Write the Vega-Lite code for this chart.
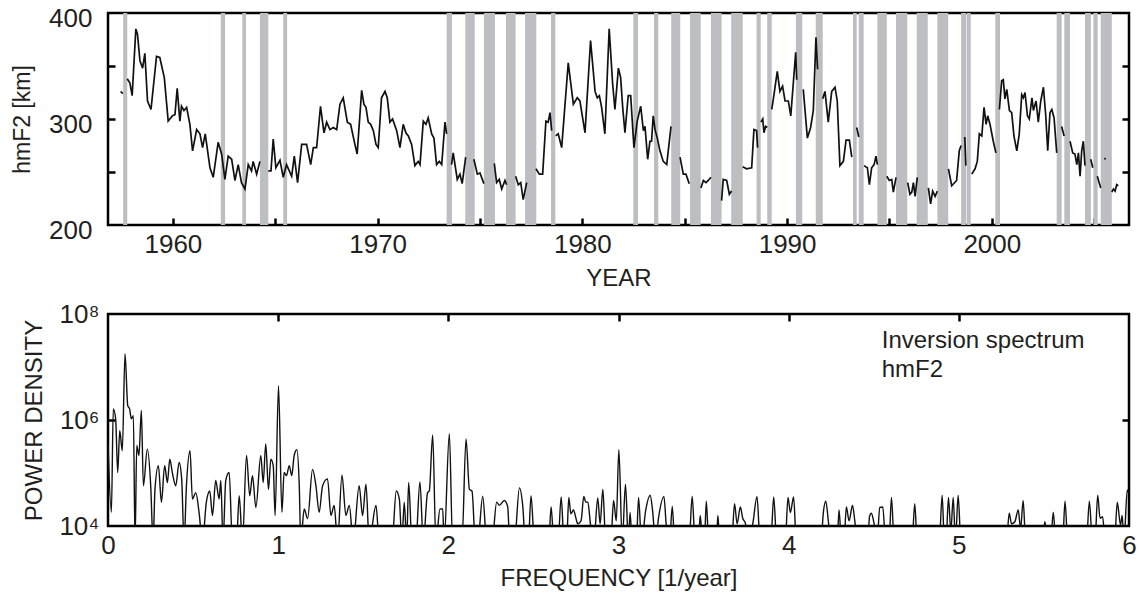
{
"$schema": "https://vega.github.io/schema/vega-lite/v6.json",
"padding": {"left": 10, "top": 3, "right": 12, "bottom": 4},
"background": "white",
"config": {
  "view": {"stroke": "black", "strokeWidth": 2.5},
  "font": "Liberation Sans",
  "axis": {"domain": false, "grid": false, "labelFont": "Liberation Sans", "titleFont": "Liberation Sans", "labelColor": "#231f20", "titleColor": "#231f20", "labelFontSize": 26, "titleFontSize": 24, "titleFontWeight": "normal", "tickColor": "black", "tickWidth": 2.5, "tickSize": 7, "labelFlush": false, "labelOverlap": false, "labelBound": false}
},
"bounds": "flush",
"spacing": 89,
"datasets": {
  "bars": [
    {"start":1957.57,"end":1957.77},{"start":1962.34,"end":1962.55},{"start":1963.39,"end":1963.57},{"start":1964.25,"end":1964.66},{"start":1965.39,"end":1965.58},
    {"start":1973.37,"end":1973.63},{"start":1974.28,"end":1974.74},{"start":1975.19,"end":1975.73},{"start":1976.27,"end":1976.74},{"start":1977.20,"end":1977.75},{"start":1978.47,"end":1978.68},
    {"start":1982.49,"end":1982.72},{"start":1983.50,"end":1983.71},{"start":1984.34,"end":1984.78},{"start":1985.26,"end":1985.78},{"start":1986.28,"end":1986.80},{"start":1987.27,"end":1987.83},
    {"start":1988.51,"end":1988.71},{"start":1989.03,"end":1989.25},{"start":1990.43,"end":1990.74},{"start":1991.40,"end":1991.74},{"start":1993.22,"end":1993.40},{"start":1993.50,"end":1993.74},
    {"start":1994.41,"end":1994.87},{"start":1995.32,"end":1995.87},{"start":1996.33,"end":1996.87},{"start":1997.34,"end":1997.87},{"start":1998.50,"end":1998.74},{"start":1998.77,"end":1998.97},
    {"start":2000.17,"end":2000.40},{"start":2003.17,"end":2003.41},{"start":2003.54,"end":2003.82},{"start":2004.55,"end":2004.84},{"start":2004.96,"end":2005.17},{"start":2005.32,"end":2005.86}
  ],
  "hm": [
    {"year":1957.45,"hmF2":326,"seg":0},{"year":1957.55,"hmF2":324,"seg":0},
    {"year":1957.77,"hmF2":338,"seg":1},{"year":1957.90,"hmF2":334,"seg":1},{"year":1958.01,"hmF2":322,"seg":1},{"year":1958.19,"hmF2":385,"seg":1},{"year":1958.27,"hmF2":380,"seg":1},{"year":1958.39,"hmF2":355,"seg":1},{"year":1958.52,"hmF2":348,"seg":1},{"year":1958.63,"hmF2":362,"seg":1},{"year":1958.76,"hmF2":317,"seg":1},{"year":1958.93,"hmF2":309,"seg":1},{"year":1959.20,"hmF2":359,"seg":1},{"year":1959.36,"hmF2":358,"seg":1},{"year":1959.58,"hmF2":339,"seg":1},{"year":1959.77,"hmF2":298,"seg":1},{"year":1959.98,"hmF2":303,"seg":1},{"year":1960.10,"hmF2":304,"seg":1},{"year":1960.21,"hmF2":329,"seg":1},{"year":1960.34,"hmF2":298,"seg":1},{"year":1960.42,"hmF2":312,"seg":1},{"year":1960.54,"hmF2":308,"seg":1},{"year":1960.67,"hmF2":311,"seg":1},{"year":1960.83,"hmF2":295,"seg":1},{"year":1960.96,"hmF2":270,"seg":1},{"year":1961.16,"hmF2":290,"seg":1},{"year":1961.32,"hmF2":286,"seg":1},{"year":1961.45,"hmF2":273,"seg":1},{"year":1961.58,"hmF2":286,"seg":1},{"year":1961.81,"hmF2":254,"seg":1},{"year":1961.97,"hmF2":245,"seg":1},{"year":1962.21,"hmF2":278,"seg":1},{"year":1962.38,"hmF2":267,"seg":1},{"year":1962.54,"hmF2":243,"seg":1},{"year":1962.70,"hmF2":265,"seg":1},{"year":1962.87,"hmF2":262,"seg":1},{"year":1963.03,"hmF2":242,"seg":1},{"year":1963.19,"hmF2":257,"seg":1},{"year":1963.35,"hmF2":240,"seg":1},{"year":1963.52,"hmF2":234,"seg":1},{"year":1963.68,"hmF2":257,"seg":1},{"year":1963.84,"hmF2":251,"seg":1},{"year":1963.92,"hmF2":260,"seg":1},{"year":1964.09,"hmF2":248,"seg":1},{"year":1964.25,"hmF2":260,"seg":1},
    {"year":1964.66,"hmF2":251,"seg":2},{"year":1964.79,"hmF2":251,"seg":2},{"year":1964.90,"hmF2":281,"seg":2},{"year":1965.03,"hmF2":254,"seg":2},{"year":1965.23,"hmF2":261,"seg":2},{"year":1965.39,"hmF2":245,"seg":2},{"year":1965.55,"hmF2":257,"seg":2},{"year":1965.80,"hmF2":246,"seg":2},{"year":1965.93,"hmF2":265,"seg":2},{"year":1966.09,"hmF2":240,"seg":2},{"year":1966.29,"hmF2":276,"seg":2},{"year":1966.53,"hmF2":276,"seg":2},{"year":1966.73,"hmF2":257,"seg":2},{"year":1966.86,"hmF2":273,"seg":2},{"year":1967.02,"hmF2":273,"seg":2},{"year":1967.21,"hmF2":312,"seg":2},{"year":1967.38,"hmF2":287,"seg":2},{"year":1967.51,"hmF2":297,"seg":2},{"year":1967.67,"hmF2":290,"seg":2},{"year":1967.83,"hmF2":292,"seg":2},{"year":1968.00,"hmF2":290,"seg":2},{"year":1968.16,"hmF2":314,"seg":2},{"year":1968.32,"hmF2":320,"seg":2},{"year":1968.52,"hmF2":297,"seg":2},{"year":1968.68,"hmF2":295,"seg":2},{"year":1968.89,"hmF2":276,"seg":2},{"year":1969.00,"hmF2":267,"seg":2},{"year":1969.22,"hmF2":327,"seg":2},{"year":1969.33,"hmF2":314,"seg":2},{"year":1969.43,"hmF2":311,"seg":2},{"year":1969.54,"hmF2":297,"seg":2},{"year":1969.66,"hmF2":295,"seg":2},{"year":1969.79,"hmF2":289,"seg":2},{"year":1969.92,"hmF2":276,"seg":2},{"year":1970.03,"hmF2":273,"seg":2},{"year":1970.19,"hmF2":320,"seg":2},{"year":1970.36,"hmF2":326,"seg":2},{"year":1970.47,"hmF2":320,"seg":2},{"year":1970.60,"hmF2":297,"seg":2},{"year":1970.73,"hmF2":300,"seg":2},{"year":1970.93,"hmF2":289,"seg":2},{"year":1971.09,"hmF2":273,"seg":2},{"year":1971.25,"hmF2":295,"seg":2},{"year":1971.38,"hmF2":287,"seg":2},{"year":1971.50,"hmF2":284,"seg":2},{"year":1971.66,"hmF2":276,"seg":2},{"year":1971.82,"hmF2":256,"seg":2},{"year":1971.98,"hmF2":260,"seg":2},{"year":1972.07,"hmF2":257,"seg":2},{"year":1972.23,"hmF2":298,"seg":2},{"year":1972.36,"hmF2":295,"seg":2},{"year":1972.47,"hmF2":301,"seg":2},{"year":1972.64,"hmF2":286,"seg":2},{"year":1972.75,"hmF2":282,"seg":2},{"year":1972.88,"hmF2":257,"seg":2},{"year":1973.01,"hmF2":260,"seg":2},{"year":1973.13,"hmF2":257,"seg":2},{"year":1973.29,"hmF2":297,"seg":2},{"year":1973.37,"hmF2":286,"seg":2},
    {"year":1973.61,"hmF2":257,"seg":3},{"year":1973.69,"hmF2":268,"seg":3},{"year":1973.89,"hmF2":243,"seg":3},{"year":1974.02,"hmF2":248,"seg":3},{"year":1974.13,"hmF2":239,"seg":3},{"year":1974.30,"hmF2":264,"seg":3},
    {"year":1974.70,"hmF2":262,"seg":4},{"year":1974.87,"hmF2":248,"seg":4},{"year":1975.00,"hmF2":249,"seg":4},{"year":1975.19,"hmF2":239,"seg":4},
    {"year":1975.70,"hmF2":258,"seg":5},{"year":1975.81,"hmF2":240,"seg":5},{"year":1975.94,"hmF2":243,"seg":5},{"year":1976.06,"hmF2":234,"seg":5},{"year":1976.22,"hmF2":242,"seg":5},{"year":1976.30,"hmF2":238,"seg":5},
    {"year":1976.74,"hmF2":246,"seg":6},{"year":1976.87,"hmF2":238,"seg":6},{"year":1976.99,"hmF2":240,"seg":6},{"year":1977.11,"hmF2":224,"seg":6},{"year":1977.28,"hmF2":240,"seg":6},
    {"year":1977.73,"hmF2":253,"seg":7},{"year":1977.90,"hmF2":248,"seg":7},{"year":1978.06,"hmF2":248,"seg":7},{"year":1978.22,"hmF2":298,"seg":7},{"year":1978.33,"hmF2":297,"seg":7},{"year":1978.42,"hmF2":306,"seg":7},{"year":1978.50,"hmF2":289,"seg":7},
    {"year":1978.70,"hmF2":284,"seg":8},{"year":1978.82,"hmF2":286,"seg":8},{"year":1978.99,"hmF2":273,"seg":8},{"year":1979.31,"hmF2":353,"seg":8},{"year":1979.56,"hmF2":314,"seg":8},{"year":1979.75,"hmF2":320,"seg":8},{"year":1979.88,"hmF2":317,"seg":8},{"year":1980.13,"hmF2":287,"seg":8},{"year":1980.40,"hmF2":374,"seg":8},{"year":1980.62,"hmF2":326,"seg":8},{"year":1980.73,"hmF2":320,"seg":8},{"year":1980.83,"hmF2":322,"seg":8},{"year":1980.94,"hmF2":311,"seg":8},{"year":1981.10,"hmF2":286,"seg":8},{"year":1981.31,"hmF2":385,"seg":8},{"year":1981.48,"hmF2":333,"seg":8},{"year":1981.59,"hmF2":309,"seg":8},{"year":1981.76,"hmF2":348,"seg":8},{"year":1981.87,"hmF2":339,"seg":8},{"year":1981.97,"hmF2":311,"seg":8},{"year":1982.08,"hmF2":287,"seg":8},{"year":1982.24,"hmF2":322,"seg":8},{"year":1982.36,"hmF2":322,"seg":8},{"year":1982.52,"hmF2":273,"seg":8},{"year":1982.68,"hmF2":298,"seg":8},{"year":1982.85,"hmF2":312,"seg":8},{"year":1982.98,"hmF2":289,"seg":8},{"year":1983.06,"hmF2":293,"seg":8},{"year":1983.19,"hmF2":262,"seg":8},{"year":1983.30,"hmF2":279,"seg":8},{"year":1983.38,"hmF2":279,"seg":8},{"year":1983.46,"hmF2":303,"seg":8},{"year":1983.55,"hmF2":290,"seg":8},{"year":1983.66,"hmF2":282,"seg":8},{"year":1983.79,"hmF2":270,"seg":8},{"year":1983.95,"hmF2":260,"seg":8},{"year":1984.12,"hmF2":257,"seg":8},{"year":1984.33,"hmF2":293,"seg":8},
    {"year":1984.77,"hmF2":264,"seg":9},{"year":1984.93,"hmF2":248,"seg":9},{"year":1985.06,"hmF2":248,"seg":9},{"year":1985.22,"hmF2":239,"seg":9},
    {"year":1985.79,"hmF2":235,"seg":10},{"year":1985.91,"hmF2":242,"seg":10},{"year":1986.04,"hmF2":240,"seg":10},{"year":1986.15,"hmF2":242,"seg":10},{"year":1986.28,"hmF2":245,"seg":10},
    {"year":1986.80,"hmF2":223,"seg":11},{"year":1986.88,"hmF2":243,"seg":11},{"year":1987.05,"hmF2":242,"seg":11},{"year":1987.18,"hmF2":229,"seg":11},{"year":1987.29,"hmF2":232,"seg":11},
    {"year":1987.83,"hmF2":255,"seg":12},{"year":1988.02,"hmF2":253,"seg":12},{"year":1988.27,"hmF2":254,"seg":12},{"year":1988.38,"hmF2":290,"seg":12},{"year":1988.51,"hmF2":289,"seg":12},{"year":1988.56,"hmF2":273,"seg":12},
    {"year":1988.72,"hmF2":297,"seg":13},{"year":1988.81,"hmF2":300,"seg":13},{"year":1988.87,"hmF2":287,"seg":13},{"year":1988.95,"hmF2":293,"seg":13},{"year":1989.03,"hmF2":292,"seg":13},
    {"year":1989.25,"hmF2":309,"seg":14},{"year":1989.36,"hmF2":323,"seg":14},{"year":1989.52,"hmF2":345,"seg":14},{"year":1989.65,"hmF2":326,"seg":14},{"year":1989.78,"hmF2":331,"seg":14},{"year":1989.90,"hmF2":317,"seg":14},{"year":1990.06,"hmF2":317,"seg":14},{"year":1990.18,"hmF2":303,"seg":14},{"year":1990.30,"hmF2":333,"seg":14},{"year":1990.42,"hmF2":363,"seg":14},{"year":1990.47,"hmF2":337,"seg":14},
    {"year":1990.79,"hmF2":328,"seg":15},{"year":1990.99,"hmF2":282,"seg":15},{"year":1991.15,"hmF2":292,"seg":15},{"year":1991.28,"hmF2":308,"seg":15},{"year":1991.41,"hmF2":377,"seg":15},{"year":1991.49,"hmF2":347,"seg":15},
    {"year":1991.74,"hmF2":319,"seg":16},{"year":1991.85,"hmF2":326,"seg":16},{"year":1992.01,"hmF2":297,"seg":16},{"year":1992.18,"hmF2":326,"seg":16},{"year":1992.34,"hmF2":330,"seg":16},{"year":1992.45,"hmF2":317,"seg":16},{"year":1992.58,"hmF2":256,"seg":16},{"year":1992.75,"hmF2":260,"seg":16},{"year":1992.88,"hmF2":280,"seg":16},{"year":1993.04,"hmF2":280,"seg":16},{"year":1993.16,"hmF2":264,"seg":16},
    {"year":1993.40,"hmF2":292,"seg":17},{"year":1993.50,"hmF2":283,"seg":17},
    {"year":1993.76,"hmF2":256,"seg":18},{"year":1993.92,"hmF2":254,"seg":18},{"year":1994.02,"hmF2":238,"seg":18},{"year":1994.13,"hmF2":254,"seg":18},{"year":1994.25,"hmF2":257,"seg":18},{"year":1994.34,"hmF2":265,"seg":18},{"year":1994.41,"hmF2":257,"seg":18},
    {"year":1994.87,"hmF2":246,"seg":19},{"year":1994.99,"hmF2":242,"seg":19},{"year":1995.11,"hmF2":243,"seg":19},{"year":1995.19,"hmF2":231,"seg":19},{"year":1995.32,"hmF2":245,"seg":19},
    {"year":1995.89,"hmF2":240,"seg":20},{"year":1996.00,"hmF2":229,"seg":20},{"year":1996.09,"hmF2":231,"seg":20},{"year":1996.17,"hmF2":240,"seg":20},{"year":1996.25,"hmF2":227,"seg":20},{"year":1996.36,"hmF2":245,"seg":20},
    {"year":1996.90,"hmF2":235,"seg":21},{"year":1997.01,"hmF2":220,"seg":21},{"year":1997.11,"hmF2":232,"seg":21},{"year":1997.23,"hmF2":227,"seg":21},{"year":1997.34,"hmF2":232,"seg":21},
    {"year":1997.88,"hmF2":253,"seg":22},{"year":1998.04,"hmF2":237,"seg":22},{"year":1998.28,"hmF2":242,"seg":22},{"year":1998.41,"hmF2":270,"seg":22},{"year":1998.50,"hmF2":275,"seg":22},
    {"year":1998.68,"hmF2":283,"seg":23},{"year":1998.73,"hmF2":256,"seg":23},
    {"year":1999.02,"hmF2":248,"seg":24},{"year":1999.18,"hmF2":253,"seg":24},{"year":1999.29,"hmF2":260,"seg":24},{"year":1999.39,"hmF2":286,"seg":24},{"year":1999.51,"hmF2":284,"seg":24},{"year":1999.62,"hmF2":311,"seg":24},{"year":1999.72,"hmF2":295,"seg":24},{"year":1999.80,"hmF2":303,"seg":24},{"year":1999.91,"hmF2":295,"seg":24},{"year":2000.07,"hmF2":279,"seg":24},{"year":2000.20,"hmF2":268,"seg":24},
    {"year":2000.37,"hmF2":309,"seg":25},{"year":2000.48,"hmF2":336,"seg":25},{"year":2000.56,"hmF2":337,"seg":25},{"year":2000.64,"hmF2":319,"seg":25},{"year":2000.73,"hmF2":328,"seg":25},{"year":2000.86,"hmF2":308,"seg":25},{"year":2000.97,"hmF2":306,"seg":25},{"year":2001.08,"hmF2":284,"seg":25},{"year":2001.22,"hmF2":270,"seg":25},{"year":2001.34,"hmF2":286,"seg":25},{"year":2001.46,"hmF2":323,"seg":25},{"year":2001.54,"hmF2":320,"seg":25},{"year":2001.62,"hmF2":325,"seg":25},{"year":2001.74,"hmF2":303,"seg":25},{"year":2001.83,"hmF2":300,"seg":25},{"year":2001.96,"hmF2":320,"seg":25},{"year":2002.03,"hmF2":308,"seg":25},{"year":2002.16,"hmF2":317,"seg":25},{"year":2002.27,"hmF2":297,"seg":25},{"year":2002.39,"hmF2":317,"seg":25},{"year":2002.52,"hmF2":330,"seg":25},{"year":2002.63,"hmF2":304,"seg":25},{"year":2002.73,"hmF2":270,"seg":25},{"year":2002.84,"hmF2":306,"seg":25},{"year":2002.93,"hmF2":309,"seg":25},{"year":2003.04,"hmF2":301,"seg":25},{"year":2003.17,"hmF2":268,"seg":25},
    {"year":2003.41,"hmF2":293,"seg":26},{"year":2003.53,"hmF2":284,"seg":26},
    {"year":2003.82,"hmF2":279,"seg":27},{"year":2003.95,"hmF2":268,"seg":27},{"year":2004.06,"hmF2":267,"seg":27},{"year":2004.15,"hmF2":257,"seg":27},{"year":2004.23,"hmF2":268,"seg":27},{"year":2004.31,"hmF2":246,"seg":27},{"year":2004.39,"hmF2":270,"seg":27},{"year":2004.47,"hmF2":279,"seg":27},{"year":2004.55,"hmF2":256,"seg":27},
    {"year":2004.83,"hmF2":262,"seg":28},{"year":2004.93,"hmF2":254,"seg":28},
    {"year":2005.15,"hmF2":246,"seg":29},{"year":2005.32,"hmF2":235,"seg":29},
    {"year":2005.50,"hmF2":263,"seg":30},{"year":2005.56,"hmF2":262,"seg":30},
    {"year":2005.86,"hmF2":231,"seg":31},{"year":2005.94,"hmF2":234,"seg":31},{"year":2006.02,"hmF2":232,"seg":31},{"year":2006.10,"hmF2":238,"seg":31},{"year":2006.18,"hmF2":237,"seg":31}
  ],
  "spec": [
    {"f":0.0,"p":380000},{"f":0.02,"p":18200},{"f":0.031,"p":1620000},{"f":0.045,"p":1050000},{"f":0.057,"p":102000},{"f":0.069,"p":631000},{"f":0.084,"p":263000},{"f":0.1,"p":17800000},{"f":0.116,"p":1860000},{"f":0.127,"p":1620000},{"f":0.137,"p":1050000},{"f":0.149,"p":1200000},{"f":0.159,"p":5000},{"f":0.169,"p":331000},{"f":0.182,"p":214000},{"f":0.196,"p":1510000},{"f":0.208,"p":57500},{"f":0.231,"p":282000},{"f":0.251,"p":57500},{"f":0.265,"p":5000},{"f":0.276,"p":49000},{"f":0.296,"p":138000},{"f":0.314,"p":28200},{"f":0.333,"p":138000},{"f":0.349,"p":66100},{"f":0.363,"p":182000},{"f":0.378,"p":102000},{"f":0.398,"p":57500},{"f":0.418,"p":158000},{"f":0.433,"p":77600},{"f":0.447,"p":5000},{"f":0.461,"p":57500},{"f":0.482,"p":263000},{"f":0.496,"p":32400},{"f":0.516,"p":42700},{"f":0.535,"p":18200},{"f":0.555,"p":5000},{"f":0.578,"p":28200},{"f":0.598,"p":45700},{"f":0.614,"p":15800},{"f":0.633,"p":72400},{"f":0.653,"p":32400},{"f":0.663,"p":72400},{"f":0.676,"p":5000},{"f":0.692,"p":72400},{"f":0.712,"p":102000},{"f":0.731,"p":5000},{"f":0.755,"p":5000},{"f":0.771,"p":37200},{"f":0.79,"p":5000},{"f":0.814,"p":214000},{"f":0.833,"p":37200},{"f":0.849,"p":89100},{"f":0.869,"p":22400},{"f":0.898,"p":214000},{"f":0.912,"p":66100},{"f":0.927,"p":355000},{"f":0.943,"p":49000},{"f":0.957,"p":182000},{"f":0.971,"p":138000},{"f":0.982,"p":15800},{"f":1.002,"p":4370000},{"f":1.022,"p":18200},{"f":1.035,"p":102000},{"f":1.049,"p":89100},{"f":1.065,"p":138000},{"f":1.08,"p":89100},{"f":1.094,"p":214000},{"f":1.11,"p":275000},{"f":1.124,"p":57500},{"f":1.133,"p":5000},{"f":1.153,"p":20900},{"f":1.173,"p":13800},{"f":1.202,"p":117000},{"f":1.222,"p":57500},{"f":1.241,"p":18200},{"f":1.261,"p":57500},{"f":1.29,"p":77600},{"f":1.31,"p":15800},{"f":1.329,"p":24500},{"f":1.349,"p":5000},{"f":1.375,"p":91200},{"f":1.398,"p":15800},{"f":1.418,"p":24500},{"f":1.441,"p":5000},{"f":1.476,"p":57500},{"f":1.496,"p":15800},{"f":1.516,"p":61700},{"f":1.535,"p":5000},{"f":1.575,"p":24500},{"f":1.594,"p":5000},{"f":1.669,"p":5000},{"f":1.694,"p":45700},{"f":1.712,"p":32400},{"f":1.727,"p":5000},{"f":1.741,"p":28200},{"f":1.755,"p":5000},{"f":1.767,"p":66100},{"f":1.786,"p":5000},{"f":1.809,"p":5000},{"f":1.833,"p":67600},{"f":1.853,"p":5000},{"f":1.878,"p":42700},{"f":1.888,"p":45700},{"f":1.908,"p":525000},{"f":1.927,"p":5000},{"f":1.951,"p":20900},{"f":1.967,"p":20900},{"f":1.975,"p":5000},{"f":2.006,"p":550000},{"f":2.025,"p":5000},{"f":2.08,"p":5000},{"f":2.104,"p":437000},{"f":2.124,"p":49000},{"f":2.139,"p":45700},{"f":2.159,"p":5000},{"f":2.173,"p":5000},{"f":2.202,"p":36300},{"f":2.226,"p":5000},{"f":2.257,"p":5000},{"f":2.284,"p":28200},{"f":2.3,"p":24500},{"f":2.329,"p":30200},{"f":2.349,"p":22900},{"f":2.361,"p":5000},{"f":2.388,"p":5000},{"f":2.418,"p":52500},{"f":2.437,"p":24500},{"f":2.453,"p":5000},{"f":2.47,"p":5000},{"f":2.486,"p":37200},{"f":2.506,"p":5000},{"f":2.59,"p":5000},{"f":2.604,"p":22900},{"f":2.62,"p":5000},{"f":2.645,"p":5000},{"f":2.663,"p":35500},{"f":2.68,"p":5000},{"f":2.695,"p":5000},{"f":2.708,"p":34700},{"f":2.72,"p":17000},{"f":2.735,"p":20000},{"f":2.75,"p":14000},{"f":2.76,"p":11000},{"f":2.78,"p":12500},{"f":2.796,"p":36300},{"f":2.808,"p":28200},{"f":2.82,"p":28200},{"f":2.835,"p":11000},{"f":2.855,"p":5000},{"f":2.878,"p":33900},{"f":2.892,"p":11000},{"f":2.908,"p":49000},{"f":2.925,"p":5000},{"f":2.955,"p":5000},{"f":2.971,"p":30200},{"f":2.987,"p":12500},{"f":3.002,"p":275000},{"f":3.022,"p":5000},{"f":3.041,"p":61700},{"f":3.058,"p":5000},{"f":3.068,"p":18000},{"f":3.08,"p":5000},{"f":3.105,"p":5000},{"f":3.118,"p":34700},{"f":3.135,"p":5000},{"f":3.16,"p":20000},{"f":3.186,"p":38000},{"f":3.2,"p":20000},{"f":3.218,"p":5000},{"f":3.235,"p":14000},{"f":3.267,"p":36300},{"f":3.28,"p":11000},{"f":3.3,"p":5000},{"f":3.316,"p":23400},{"f":3.33,"p":5000},{"f":3.415,"p":5000},{"f":3.433,"p":36300},{"f":3.45,"p":5000},{"f":3.47,"p":5000},{"f":3.48,"p":15800},{"f":3.495,"p":5000},{"f":3.505,"p":5000},{"f":3.516,"p":29500},{"f":3.53,"p":5000},{"f":3.575,"p":5000},{"f":3.584,"p":15800},{"f":3.595,"p":5000},{"f":3.665,"p":5000},{"f":3.682,"p":26300},{"f":3.697,"p":11000},{"f":3.716,"p":22900},{"f":3.73,"p":14000},{"f":3.745,"p":11500},{"f":3.76,"p":5000},{"f":3.79,"p":11500},{"f":3.814,"p":36300},{"f":3.832,"p":5000},{"f":3.895,"p":5000},{"f":3.912,"p":35500},{"f":3.93,"p":5000},{"f":3.98,"p":5000},{"f":3.996,"p":34700},{"f":4.01,"p":18000},{"f":4.029,"p":35500},{"f":4.045,"p":5000},{"f":4.19,"p":5000},{"f":4.204,"p":18200},{"f":4.218,"p":29500},{"f":4.235,"p":11000},{"f":4.25,"p":5000},{"f":4.285,"p":5000},{"f":4.296,"p":20000},{"f":4.31,"p":5000},{"f":4.325,"p":5000},{"f":4.339,"p":22900},{"f":4.355,"p":12500},{"f":4.375,"p":24500},{"f":4.39,"p":11500},{"f":4.405,"p":5000},{"f":4.465,"p":5000},{"f":4.475,"p":15000},{"f":4.486,"p":17400},{"f":4.5,"p":12000},{"f":4.52,"p":5000},{"f":4.535,"p":22400},{"f":4.553,"p":22900},{"f":4.57,"p":5000},{"f":4.59,"p":5000},{"f":4.604,"p":34700},{"f":4.62,"p":5000},{"f":4.725,"p":5000},{"f":4.741,"p":26300},{"f":4.755,"p":5000},{"f":4.885,"p":5000},{"f":4.902,"p":38000},{"f":4.915,"p":5000},{"f":4.925,"p":5000},{"f":4.939,"p":34700},{"f":4.953,"p":8000},{"f":4.967,"p":34700},{"f":4.98,"p":5000},{"f":4.996,"p":38000},{"f":5.012,"p":5000},{"f":5.28,"p":5000},{"f":5.296,"p":17400},{"f":5.31,"p":11000},{"f":5.329,"p":12000},{"f":5.349,"p":20000},{"f":5.363,"p":9000},{"f":5.378,"p":30200},{"f":5.393,"p":5000},{"f":5.49,"p":5000},{"f":5.506,"p":12000},{"f":5.52,"p":5000},{"f":5.54,"p":5000},{"f":5.555,"p":18200},{"f":5.57,"p":5000},{"f":5.61,"p":5000},{"f":5.624,"p":29500},{"f":5.64,"p":5000},{"f":5.75,"p":5000},{"f":5.767,"p":29500},{"f":5.785,"p":5000},{"f":5.8,"p":5000},{"f":5.816,"p":38000},{"f":5.83,"p":14000},{"f":5.845,"p":15000},{"f":5.86,"p":5000},{"f":5.915,"p":5000},{"f":5.931,"p":28200},{"f":5.95,"p":10500},{"f":5.96,"p":15800},{"f":5.97,"p":5000},{"f":5.99,"p":47900},{"f":6.0,"p":40000}
  ],
  "note": [{"f": 4.547, "p": 22800000, "label": ["Inversion spectrum", "hmF2"]}]
},
"vconcat": [
  {
    "width": 1021, "height": 212,
    "layer": [
      {
        "data": {"name": "bars"},
        "mark": {"type": "rect", "color": "#bdbec2"},
        "encoding": {
          "x": {"field": "start", "type": "quantitative", "scale": {"domain": [1956.83, 2006.7], "nice": false, "zero": false}, "axis": null},
          "x2": {"field": "end"}
        }
      },
      {
        "data": {"name": "hm"},
        "mark": {"type": "line", "color": "#111111", "strokeWidth": 1.7},
        "encoding": {
          "x": {"field": "year", "type": "quantitative",
                "axis": {"values": [1960,1970,1980,1990,2000], "format": "d", "ticks": false, "labelPadding": 6, "title": "YEAR", "titlePadding": 9}},
          "y": {"field": "hmF2", "type": "quantitative", "scale": {"domain": [200, 400], "nice": false, "zero": false},
                "axis": {"values": [200,300,400], "ticks": false, "labelPadding": 16, "labelOffset": 5, "title": "hmF2 [km]", "titleFontSize": 23, "titlePadding": 14}},
          "detail": {"field": "seg", "type": "nominal"}
        }
      },
      {
        "data": {"name": "hm"},
        "mark": {"type": "line", "opacity": 0},
        "encoding": {
          "x": {"field": "year", "type": "quantitative",
                "axis": {"orient": "bottom", "offset": -7, "values": [1960,1965,1970,1975,1980,1985,1990,1995,2000,2005], "labels": false, "title": null}},
          "y": {"field": "hmF2", "type": "quantitative", "axis": {"orient": "right", "offset": -7, "values": [250,300,350], "labels": false, "title": null}},
          "detail": {"field": "seg", "type": "nominal"}
        }
      },
      {
        "data": {"name": "hm"},
        "mark": {"type": "line", "opacity": 0},
        "encoding": {
          "x": {"field": "year", "type": "quantitative", "axis": null},
          "y": {"field": "hmF2", "type": "quantitative", "axis": {"orient": "left", "offset": -7, "values": [250,300,350], "labels": false, "title": null}},
          "detail": {"field": "seg", "type": "nominal"}
        }
      }
    ],
    "resolve": {"axis": {"x": "independent", "y": "independent"}}
  },
  {
    "width": 1021, "height": 212,
    "layer": [
      {
        "data": {"name": "spec"},
        "mark": {"type": "line", "color": "#111111", "strokeWidth": 1.4, "clip": true, "interpolate": "monotone"},
        "encoding": {
          "x": {"field": "f", "type": "quantitative", "scale": {"domain": [0, 6], "nice": false, "zero": false},
                "axis": {"values": [0,1,2,3,4,5,6], "format": "d", "ticks": false, "labelPadding": 6, "title": "FREQUENCY [1/year]", "titlePadding": 8}},
          "y": {"field": "p", "type": "quantitative", "scale": {"type": "log", "domain": [10000, 100000000], "nice": false},
                "axis": {"values": [10000, 1000000, 100000000], "ticks": false, "labelExpr": "datum.value >= 99999999 ? '10⁸' : (datum.value >= 999999 ? '10⁶' : '10⁴')", "labelPadding": 9, "title": "POWER DENSITY", "titlePadding": 12}}
        }
      },
      {
        "data": {"name": "spec"},
        "mark": {"type": "line", "opacity": 0},
        "encoding": {
          "x": {"field": "f", "type": "quantitative", "axis": {"orient": "top", "offset": -7, "values": [1,2,3,4,5], "labels": false, "title": null}},
          "y": {"field": "p", "type": "quantitative", "axis": {"orient": "right", "offset": -7, "values": [1000000], "labels": false, "title": null}}
        }
      },
      {
        "data": {"name": "spec"},
        "mark": {"type": "line", "opacity": 0},
        "encoding": {
          "x": {"field": "f", "type": "quantitative", "axis": null},
          "y": {"field": "p", "type": "quantitative", "axis": {"orient": "left", "offset": -7, "values": [1000000], "labels": false, "title": null}}
        }
      },
      {
        "data": {"name": "note"},
        "mark": {"type": "text", "align": "left", "baseline": "alphabetic", "fontSize": 24, "lineHeight": 29, "font": "Liberation Sans", "color": "#231f20"},
        "encoding": {
          "x": {"field": "f", "type": "quantitative", "axis": null},
          "y": {"field": "p", "type": "quantitative", "axis": null},
          "text": {"field": "label"}
        }
      }
    ],
    "resolve": {"axis": {"x": "independent", "y": "independent"}}
  }
]
}
